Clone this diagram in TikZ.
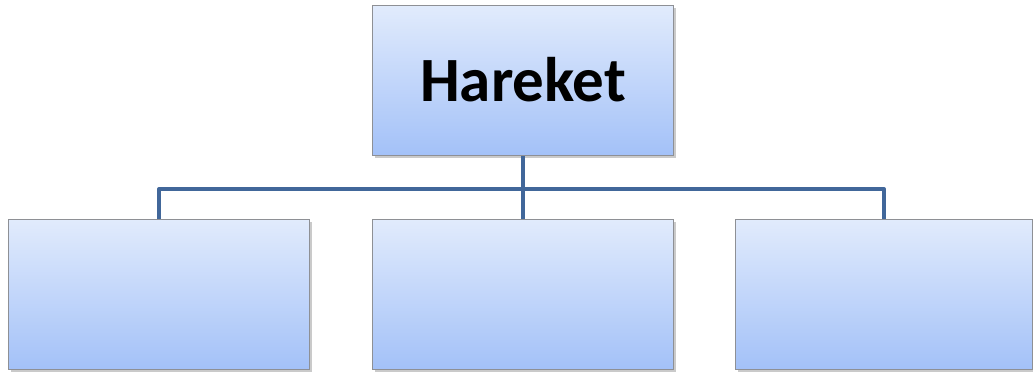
\documentclass[tikz,border=0pt]{standalone}
\usepackage{fontspec}
\setmainfont{Carlito}
\usetikzlibrary{shadows}
\definecolor{boxtop}{HTML}{E1EBFC}
\definecolor{boxbot}{HTML}{A3C1F8}
\definecolor{boxline}{HTML}{8E9095}
\definecolor{conn}{HTML}{41679A}
\begin{document}
\begin{tikzpicture}[x=1pt,y=-1pt,
  orgbox/.style={draw=boxline, line width=1.2pt, top color=boxtop, bottom color=boxbot,
    minimum width=301pt, minimum height=150pt, inner sep=0pt, anchor=north west,
    drop shadow={shadow xshift=2pt, shadow yshift=-2.5pt, opacity=0.35, fill=black!60}},
  link/.style={draw=conn, line width=4pt, line join=round}]
\useasboundingbox (0,0) rectangle (1033,373);
\node[orgbox, font=\bfseries\fontsize{63}{66}\selectfont] (top) at (372,5) {\raisebox{3pt}{Hareket}};
\node[orgbox] (b1) at (8,219) {};
\node[orgbox] (b2) at (372,219) {};
\node[orgbox, minimum width=297pt] (b3) at (735,219) {};
\path (top.south) ++(0,33) coordinate (j);
\draw[link] (top.south) -- (j);
\draw[link] (b1.north) |- (j) -| (b3.north);
\draw[link] (j) -- (b2.north);
\end{tikzpicture}
\end{document}
